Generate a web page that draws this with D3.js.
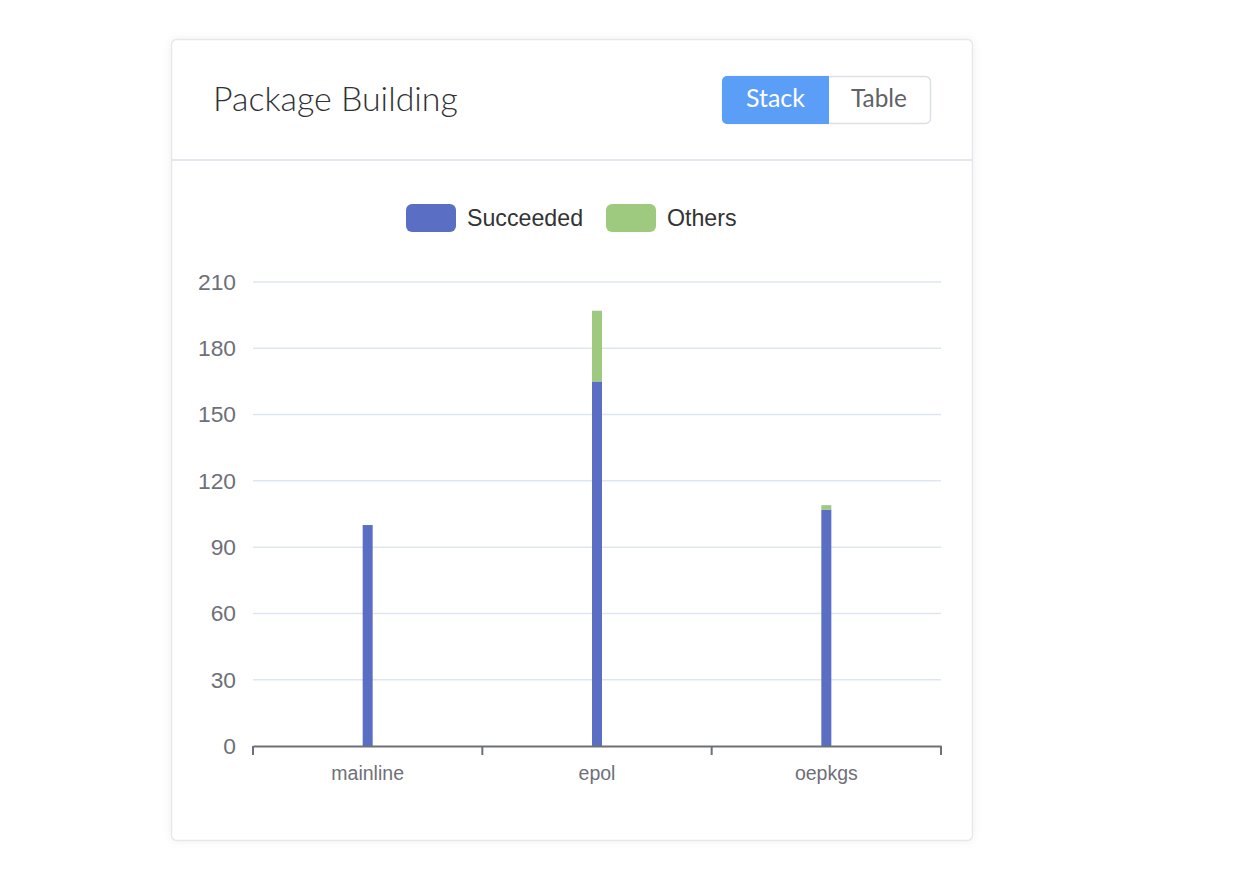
<!DOCTYPE html>
<html><head><meta charset="utf-8">
<script src="https://cdn.jsdelivr.net/npm/d3@7/dist/d3.min.js"></script>
<style>
html,body{margin:0;padding:0;background:#fff;}
svg{display:block;}
</style></head>
<body>
<svg id="c" width="1250" height="886"></svg>
<script>
const categories = ["mainline", "epol", "oepkgs"];
const succeeded = [100, 165, 107];
const others = [0, 32, 2];
const yTicks = [0, 30, 60, 90, 120, 150, 180, 210];
const seriesNames = ["Succeeded", "Others"];
const seriesColors = ["#5a6fc3", "#9dca7e"];

const svg = d3.select("#c");
const defs = svg.append("defs");
const f = defs.append("filter").attr("id","sh").attr("x","-5%").attr("y","-5%").attr("width","110%").attr("height","110%");
f.append("feDropShadow").attr("dx",0).attr("dy",0).attr("stdDeviation",4).attr("flood-color","#000").attr("flood-opacity",0.06);

// card
svg.append("rect").attr("x",171.5).attr("y",39.5).attr("width",801).attr("height",801).attr("rx",5)
  .attr("fill","#fff").attr("stroke","#e6e8ec").attr("stroke-width",1.5).attr("filter","url(#sh)");
svg.append("line").attr("x1",172).attr("x2",972).attr("y1",160).attr("y2",160).attr("stroke","#e4e7ed").attr("stroke-width",2);

function fit(t, w){ const n=t.node(); const cur=n.getComputedTextLength(); const fs=parseFloat(t.attr("font-size")); t.attr("font-size", fs*w/cur); }

const title = svg.append("text").attr("x",213).attr("y",111).attr("font-family","Lato").attr("font-weight",300)
  .attr("font-size",30).attr("fill","#303133").text("Package Building");
fit(title, 245);

// toggle buttons
const bg = svg.append("g");
bg.append("rect").attr("x",722.5).attr("y",76.5).attr("width",208).attr("height",47).attr("rx",5).attr("fill","#fff").attr("stroke","#dcdfe6").attr("stroke-width",1.5);
bg.append("path").attr("d","M727,76 H829 V124 H727 A5,5 0 0 1 722,119 V81 A5,5 0 0 1 727,76 Z").attr("fill","#5b9ef8");
const st = bg.append("text").attr("x",775.5).attr("y",107).attr("text-anchor","middle").attr("font-family","Lato").attr("font-size",22).attr("fill","#fff").text("Stack");
fit(st, 59);
const tb = bg.append("text").attr("x",879).attr("y",107).attr("text-anchor","middle").attr("font-family","Lato").attr("font-size",22).attr("fill","#606266").text("Table");
fit(tb, 56);

// chart
const m = {l:253, r:941, t:282, b:746};
const x = d3.scaleBand().domain(categories).range([m.l, m.r]);
const y = d3.scaleLinear().domain([0,210]).range([m.b, m.t]);

const grid = svg.append("g");
grid.selectAll("line").data(yTicks.filter(d=>d>0)).join("line")
  .attr("x1",m.l).attr("x2",m.r).attr("y1",d=>y(d)).attr("y2",d=>y(d))
  .attr("stroke","#e0e6f1").attr("stroke-width",1.5);

const yAxis = svg.append("g").attr("transform",`translate(${m.l},0)`)
  .call(d3.axisLeft(y).tickValues(yTicks).tickSize(0).tickPadding(17));
yAxis.select(".domain").remove();
yAxis.selectAll("text").attr("font-family","Liberation Sans, Arial").attr("font-size",22.8).attr("fill","#6e7079");

const stack = categories.map((c,i)=>({c, s:succeeded[i], o:others[i]}));
const bw = 10;
svg.append("g").selectAll("rect").data(stack).join("rect")
  .attr("x",d=>x(d.c)+x.bandwidth()/2-bw/2).attr("width",bw)
  .attr("y",d=>y(d.s)).attr("height",d=>y(0)-y(d.s)).attr("fill",seriesColors[0]);
svg.append("g").selectAll("rect").data(stack.filter(d=>d.o>0)).join("rect")
  .attr("x",d=>x(d.c)+x.bandwidth()/2-bw/2).attr("width",bw)
  .attr("y",d=>y(d.s+d.o)).attr("height",d=>y(d.s)-y(d.s+d.o)).attr("fill",seriesColors[1]);

const xAxis = svg.append("g").attr("transform",`translate(0,${m.b})`)
  .call(d3.axisBottom(x).tickSize(0).tickPadding(20));
xAxis.select(".domain").attr("stroke","#6e7079").attr("stroke-width",2);
xAxis.selectAll("text").attr("font-family","Liberation Sans, Arial").attr("font-size",19.5).attr("fill","#6e7079");
const bounds = [m.l, ...categories.map(c=>x(c)+x.bandwidth())];
xAxis.selectAll(".bt").data(bounds).join("line").attr("class","bt")
  .attr("x1",d=>d).attr("x2",d=>d).attr("y1",0).attr("y2",9).attr("stroke","#6e7079").attr("stroke-width",2);

// legend
const lg = svg.append("g");
const lx = [406, 606];
seriesNames.forEach((n,i)=>{
  lg.append("rect").attr("x",lx[i]).attr("y",204).attr("width",50).attr("height",28).attr("rx",6).attr("fill",seriesColors[i]);
  lg.append("text").attr("x",lx[i]+61).attr("y",226).attr("font-family","Liberation Sans, Arial").attr("font-size",23.2).attr("fill","#333").text(n);
});
</script>
</body></html>
